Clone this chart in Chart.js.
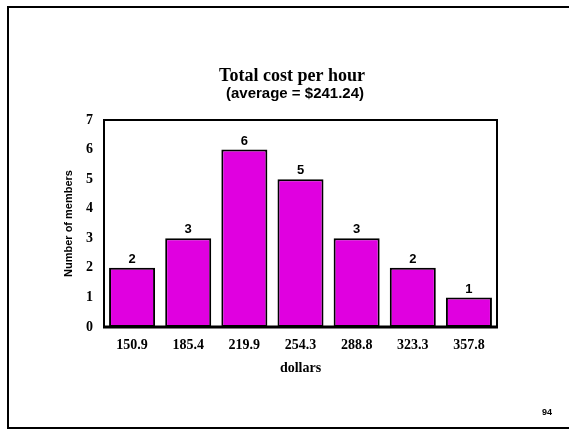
<!DOCTYPE html>
<html>
<head>
<meta charset="utf-8">
<script src="https://cdn.jsdelivr.net/npm/chart.js@4/dist/chart.umd.min.js"></script>
<style>
  html, body { margin: 0; padding: 0; background: #fff; }
  #wrap { width: 569px; height: 431px; position: relative; }
</style>
</head>
<body>
<div id="wrap"><canvas id="costChart" width="569" height="431"></canvas></div>
<script>
// 資料
const categories = ['150.9', '185.4', '219.9', '254.3', '288.8', '323.3', '357.8']
const members = [2, 3, 6, 5, 3, 2, 1]
const yMin = 0
const yMax = 7

const titleText = 'Total cost per hour'
const subTitleText = '(average = $241.24)'
const xTitle = 'dollars'
const yTitle = 'Number of members'
const pageNo = '94'

const serif = '"Liberation Serif", "Times New Roman", serif'
const sans = '"Liberation Sans", Arial, sans-serif'

// 外框 + 標題 + 頁碼
const slidePlugin = {
    id: 'slide',
    beforeDraw(chart) {
        const ctx = chart.ctx
        ctx.save()
        ctx.fillStyle = '#fff'
        ctx.fillRect(0, 0, chart.width, chart.height)
        ctx.strokeStyle = '#000'
        ctx.lineWidth = 2
        ctx.strokeRect(8, 7, 620, 421)
        ctx.fillStyle = '#000'
        ctx.textAlign = 'center'
        ctx.textBaseline = 'middle'
        ctx.font = 'bold 18px ' + serif
        ctx.fillText(titleText, 292, 76)
        ctx.font = 'bold 15px ' + sans
        ctx.fillText(subTitleText, 295, 94)
        ctx.font = 'bold 9px ' + sans
        ctx.fillText(pageNo, 547, 413)
        ctx.restore()
    },
    afterDatasetsDraw(chart) {
        const ctx = chart.ctx
        const a = chart.chartArea
        ctx.save()
        ctx.strokeStyle = '#000'
        ctx.lineWidth = 2
        ctx.beginPath()
        ctx.moveTo(a.left, a.bottom)
        ctx.lineTo(a.left, a.top)
        ctx.lineTo(a.right, a.top)
        ctx.lineTo(a.right, a.bottom)
        ctx.stroke()
        ctx.lineWidth = 3
        ctx.beginPath()
        ctx.moveTo(a.left - 1, a.bottom)
        ctx.lineTo(a.right + 1, a.bottom)
        ctx.stroke()

        // 數值標籤
        const meta = chart.getDatasetMeta(0)
        ctx.fillStyle = '#000'
        ctx.font = 'bold 13px ' + sans
        ctx.textAlign = 'center'
        ctx.textBaseline = 'bottom'
        meta.data.forEach((bar, i) => {
            ctx.fillText(String(members[i]), bar.x, bar.y - 2)
        })
        ctx.restore()
    }
}

const ctx = document.getElementById('costChart').getContext('2d')
const costChart = new Chart(ctx, {
    type: 'bar',
    data: {
        labels: categories,
        datasets: [
            {
                label: yTitle,
                data: members,
                backgroundColor: '#e000e0',
                borderColor: '#000',
                borderWidth: 2,
                borderSkipped: false,
                categoryPercentage: 1,
                barPercentage: 0.82
            }
        ]
    },
    options: {
        responsive: false,
        animation: false,
        devicePixelRatio: 1,
        layout: {
            padding: { top: 120, left: 0, right: 72, bottom: 0 }
        },
        plugins: {
            legend: { display: false },
            tooltip: { enabled: false },
            title: { display: false }
        },
        scales: {
            x: {
                grid: { display: false, drawTicks: false },
                border: { display: false },
                ticks: {
                    color: '#000',
                    font: { family: serif, size: 14, weight: 'bold' },
                    padding: 10
                },
                title: {
                    display: true,
                    text: xTitle,
                    color: '#000',
                    font: { family: serif, size: 14, weight: 'bold' },
                    padding: { top: 0, bottom: 54 }
                },
                afterFit(scale) { scale.height = 104 }
            },
            y: {
                min: yMin,
                max: yMax,
                grid: { display: false, drawTicks: false },
                border: { display: false },
                ticks: {
                    stepSize: 1,
                    color: '#000',
                    font: { family: serif, size: 14, weight: 'bold' },
                    padding: 11
                },
                title: {
                    display: true,
                    text: yTitle,
                    color: '#000',
                    font: { family: sans, size: 11, weight: 'bold' },
                    padding: { top: 62, bottom: 0 }
                },
                afterFit(scale) { scale.width = 104 }
            }
        }
    },
    plugins: [slidePlugin]
})
</script>
</body>
</html>
